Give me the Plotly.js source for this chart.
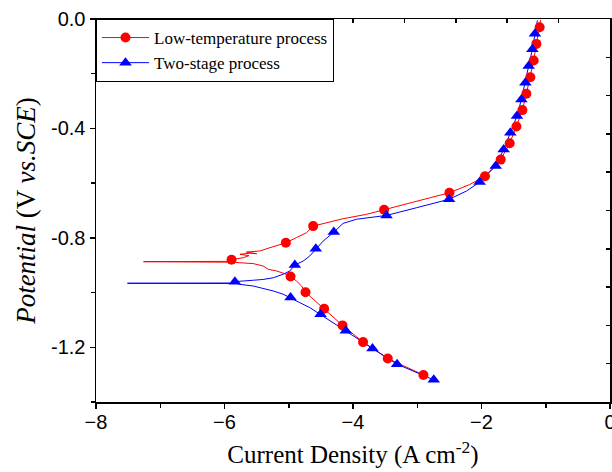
<!DOCTYPE html>
<html><head><meta charset="utf-8">
<script src="https://cdn.plot.ly/plotly-3.0.1.min.js"></script>
<style>html,body{margin:0;padding:0;background:#fff;}#chart{width:612px;height:472px;}</style>
</head><body><div id="chart"></div>
<script>
// Low-temperature process: full polarization line
const redLineX = [-2.85,-2.904,-3.459,-3.843,-4.163,-4.449,-4.739,-4.801,-4.879,-4.972,-5.061,-5.190,-5.320,-5.398,-5.554,-5.761,-5.85,-7.26,-5.92,-5.890,-5.70,-5.62,-5.76,-5.60,-5.50,-5.66,-5.45,-5.294,-5.216,-5.138,-5.045,-4.879,-4.723,-4.620,-4.412,-4.154,-3.790,-3.516,-3.013,-2.499,-2.183,-1.946,-1.701,-1.561,-1.457,-1.364,-1.302,-1.240,-1.188,-1.146,-1.095,-1.08];
const redLineY = [-1.312,-1.301,-1.241,-1.181,-1.120,-1.059,-0.999,-0.976,-0.958,-0.941,-0.931,-0.921,-0.915,-0.903,-0.894,-0.891,-0.889,-0.887,-0.886,-0.880,-0.872,-0.865,-0.860,-0.856,-0.858,-0.852,-0.848,-0.836,-0.830,-0.824,-0.818,-0.799,-0.781,-0.757,-0.745,-0.730,-0.714,-0.697,-0.666,-0.635,-0.605,-0.575,-0.514,-0.454,-0.393,-0.333,-0.273,-0.213,-0.152,-0.091,-0.030,-0.003];
// Low-temperature process: marker points
const redMarkX = [-2.904,-3.459,-3.843,-4.163,-4.449,-4.739,-4.972,-5.890,-5.045,-4.620,-3.516,-2.499,-1.946,-1.701,-1.561,-1.457,-1.364,-1.302,-1.240,-1.188,-1.146,-1.095];
const redMarkY = [-1.301,-1.241,-1.181,-1.120,-1.059,-0.999,-0.941,-0.880,-0.818,-0.757,-0.697,-0.635,-0.575,-0.514,-0.454,-0.393,-0.333,-0.273,-0.213,-0.152,-0.091,-0.030];
// Two-stage process: full polarization line
const blueLineX = [-2.743,-3.314,-3.697,-4.112,-4.505,-4.672,-4.827,-4.972,-5.087,-5.243,-5.398,-5.554,-5.761,-5.80,-7.51,-5.85,-5.838,-5.656,-5.554,-5.398,-5.243,-5.087,-4.983,-4.905,-4.776,-4.672,-4.579,-4.465,-4.299,-4.154,-3.946,-3.479,-3.013,-2.505,-2.235,-2.028,-1.779,-1.655,-1.551,-1.448,-1.379,-1.317,-1.266,-1.208,-1.168,-1.13];
const blueLineY = [-1.319,-1.262,-1.204,-1.140,-1.079,-1.055,-1.037,-1.018,-1.006,-0.994,-0.985,-0.976,-0.970,-0.967,-0.966,-0.965,-0.960,-0.958,-0.955,-0.952,-0.946,-0.933,-0.921,-0.899,-0.885,-0.866,-0.840,-0.812,-0.779,-0.747,-0.732,-0.718,-0.690,-0.659,-0.629,-0.596,-0.537,-0.477,-0.416,-0.355,-0.294,-0.233,-0.172,-0.111,-0.054,-0.005];
// Two-stage process: marker points
const blueMarkX = [-2.743,-3.314,-3.697,-4.112,-4.505,-4.972,-5.838,-4.905,-4.579,-4.299,-3.479,-2.505,-2.028,-1.779,-1.655,-1.551,-1.448,-1.379,-1.317,-1.266,-1.208,-1.168];
const blueMarkY = [-1.319,-1.262,-1.204,-1.140,-1.079,-1.018,-0.960,-0.899,-0.840,-0.779,-0.718,-0.659,-0.596,-0.537,-0.477,-0.416,-0.355,-0.294,-0.233,-0.172,-0.111,-0.054];
const seriesNames = ['Low-temperature process','Two-stage process'];
const xTickVals = [-8,-6,-4,-2,0];
const yTickVals = [0,-0.4,-0.8,-1.2];
const yTickText = ['0.0','-0.4','-0.8','-1.2'];

const RED = '#ff0000', BLUE = '#0000ff';
const SERIF = 'Liberation Serif';
const redMarker = {symbol:'circle', size:10, color:RED, line:{width:0}};
const blueMarker = {symbol:'triangle-up', size:11, color:BLUE, line:{width:0}};

const traces = [
  {x:redLineX, y:redLineY, mode:'lines', line:{color:RED, width:1}, showlegend:false, hoverinfo:'skip'},
  {x:blueLineX, y:blueLineY, mode:'lines', line:{color:BLUE, width:1}, showlegend:false, hoverinfo:'skip'},
  {x:redMarkX, y:redMarkY, mode:'markers', marker:redMarker, showlegend:false},
  {x:blueMarkX, y:blueMarkY, mode:'markers', marker:blueMarker, showlegend:false},
  {x:[null], y:[null], mode:'lines+markers', name:seriesNames[0], line:{color:RED, width:1}, marker:redMarker},
  {x:[null], y:[null], mode:'lines+markers', name:seriesNames[1], line:{color:BLUE, width:1}, marker:blueMarker},
  {x:[], y:[], xaxis:'x2', yaxis:'y2', mode:'markers', showlegend:false, hoverinfo:'skip'}
];

const axisFont = {family:'Liberation Sans', size:20, color:'#000'};
const layout = {
  width:612, height:472,
  margin:{l:96, r:2, t:19, b:70},
  paper_bgcolor:'#fff', plot_bgcolor:'#fff',
  showlegend:true,
  xaxis:{range:[-8,0], tickvals:xTickVals, ticks:'outside', ticklen:5, tickwidth:1.5, tickcolor:'#000',
    minor:{dtick:1, tick0:-8, ticks:'outside', ticklen:4, tickwidth:1.5, tickcolor:'#000'},
    showline:true, linewidth:1.5, linecolor:'#000', showgrid:false, zeroline:false, mirror:false,
    tickfont:axisFont, ticklabeloverflow:'allow', ticklabelstandoff:-4,
    title:{text:'Current Density (A cm<sup>-2</sup>)', font:{family:SERIF, size:25, color:'#000'}, standoff:14}},
  yaxis:{range:[-1.4,0], tickvals:yTickVals, ticktext:yTickText, ticks:'outside', ticklen:5, tickwidth:1.5, tickcolor:'#000',
    minor:{dtick:0.2, tick0:0, ticks:'outside', ticklen:4, tickwidth:1.5, tickcolor:'#000'},
    showline:true, linewidth:1.5, linecolor:'#000', showgrid:false, zeroline:false, mirror:false,
    tickfont:axisFont, ticklabeloverflow:'allow',
    title:{text:'<i>Potential</i> (V <i>vs.SCE</i>)', font:{family:SERIF, size:27, color:'#000'}, standoff:7}},
  xaxis2:{overlaying:'x', side:'top', anchor:'y', range:[0,10], dtick:1, tick0:0, ticks:'inside', ticklen:4, tickwidth:1.5, tickcolor:'#000',
    showticklabels:false, showline:true, linewidth:1.5, linecolor:'#000', showgrid:false, zeroline:false},
  yaxis2:{overlaying:'y', side:'right', anchor:'x', range:[0,10], dtick:1, tick0:0, ticks:'inside', ticklen:4, tickwidth:1.5, tickcolor:'#000',
    showticklabels:false, showline:true, linewidth:1.5, linecolor:'#000', showgrid:false, zeroline:false},
  legend:{x:0, y:1, xanchor:'left', yanchor:'top', bgcolor:'#fff', bordercolor:'#000', borderwidth:1,
    font:{family:SERIF, size:17, color:'#000'}, tracegroupgap:0, itemwidth:47}
};
Plotly.newPlot('chart', traces, layout, {staticPlot:true, displayModeBar:false});
</script></body></html>
